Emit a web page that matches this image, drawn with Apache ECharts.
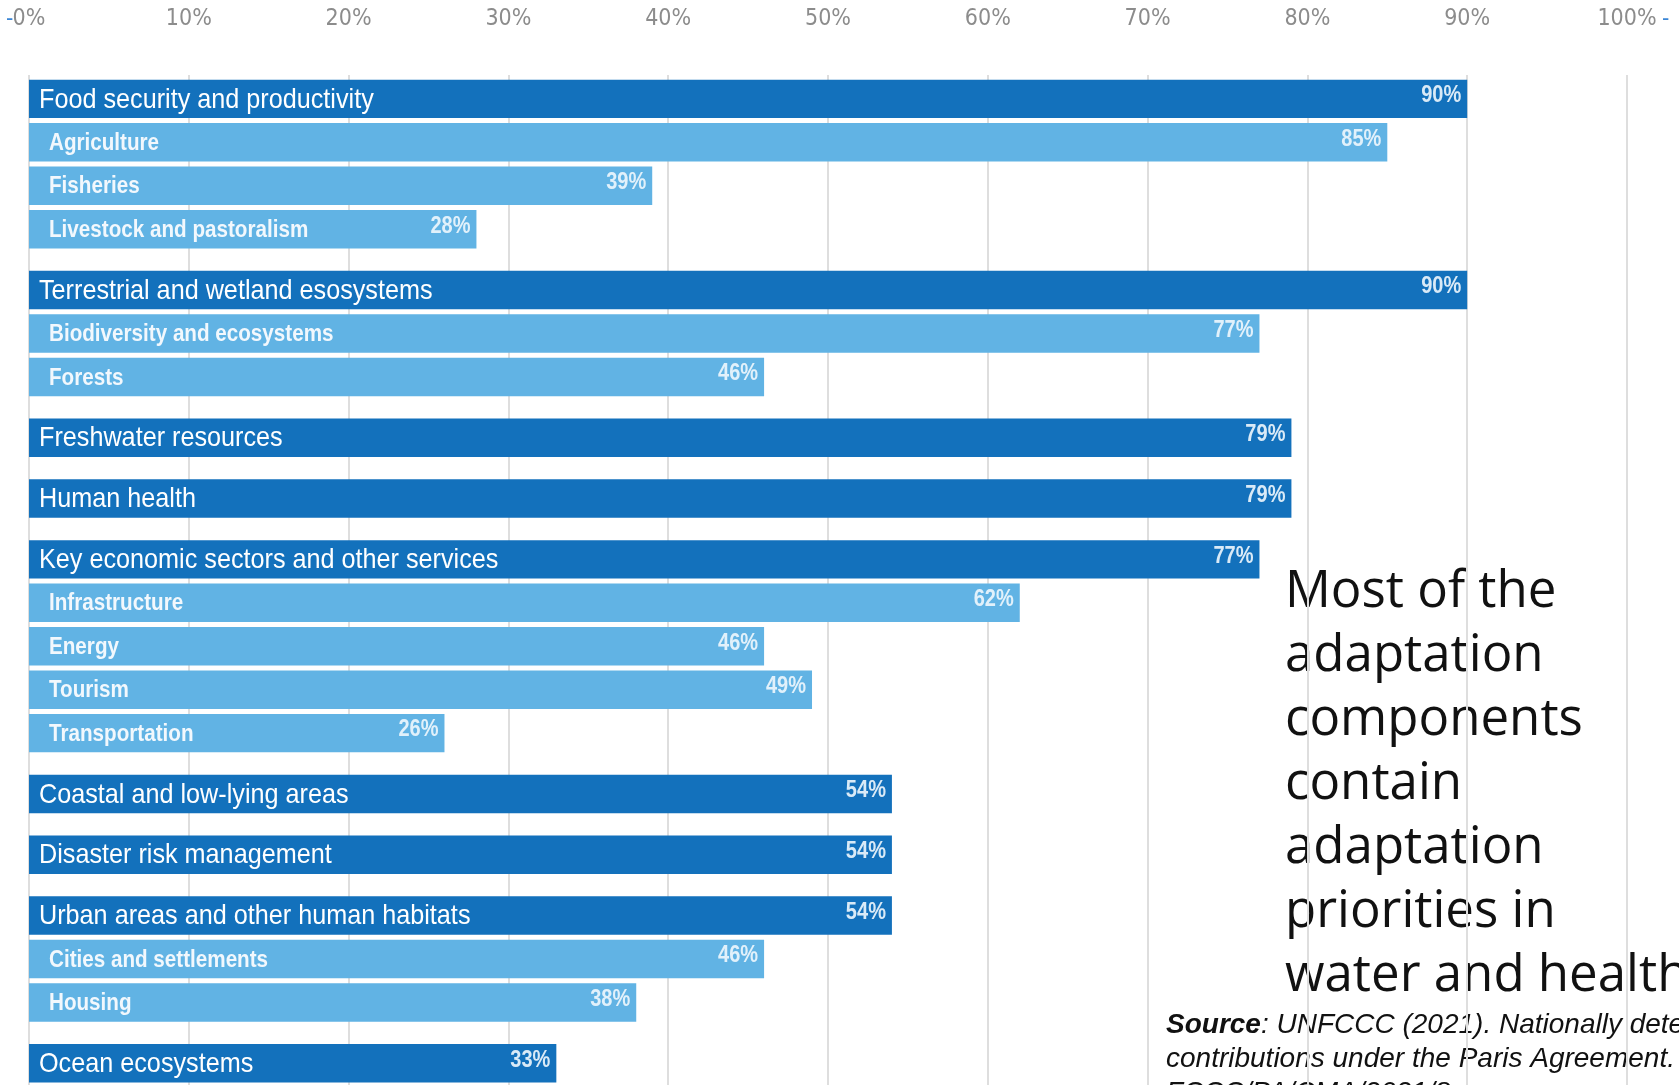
<!DOCTYPE html>
<html>
<head>
<meta charset="utf-8">
<script src="https://cdn.jsdelivr.net/npm/echarts@6/dist/echarts.min.js"></script>
<style>
  html, body { margin: 0; padding: 0; background: #fff; }
  #chart { width: 1679px; height: 1085px; }
</style>
</head>
<body>
<div id="chart"></div>
<script>
// rows top to bottom; a main row starts a new group
const categories = [
  "Food security and productivity", "Agriculture", "Fisheries", "Livestock and pastoralism",
  "Terrestrial and wetland esosystems", "Biodiversity and ecosystems", "Forests",
  "Freshwater resources",
  "Human health",
  "Key economic sectors and other services", "Infrastructure", "Energy", "Tourism", "Transportation",
  "Coastal and low-lying areas",
  "Disaster risk management",
  "Urban areas and other human habitats", "Cities and settlements", "Housing",
  "Ocean ecosystems"
];
const values = [90, 85, 39, 28, 90, 77, 46, 79, 79, 77, 62, 46, 49, 26, 54, 54, 54, 46, 38, 33];
const isSub = [0, 1, 1, 1, 0, 1, 1, 0, 0, 0, 1, 1, 1, 1, 0, 0, 0, 1, 1, 0];
const xTicks = [0, 10, 20, 30, 40, 50, 60, 70, 80, 90, 100];

const DARK = "#1371bc";
const LIGHT = "#61b3e4";
const ARIAL = '"Liberation Sans", Arial, sans-serif';
const GAP = 0.4; // extra space between groups, in rows

// row position on the hidden y axis
let group = -1;
const rows = categories.map((name, i) => {
  if (!isSub[i]) group++;
  return [values[i], i + GAP * group, i];
});

var myChart = echarts.init(document.getElementById("chart"));

var option = {
  animation: false,
  grid: { left: 29, right: 52, top: 75, bottom: 0 },
  xAxis: {
    type: "value",
    position: "top",
    min: xTicks[0],
    max: xTicks[xTicks.length - 1],
    interval: 10,
    axisLine: { show: false },
    axisTick: { show: false },
    splitLine: { lineStyle: { color: "#dedede", width: 2 } },
    axisLabel: {
      formatter: "{value}%",
      color: "#8c8c8c",
      fontSize: 23,
      fontFamily: '"DejaVu Sans Condensed", sans-serif',
      margin: 44
    }
  },
  yAxis: {
    type: "value",
    inverse: true,
    min: -0.55,
    max: 22.7,
    show: false
  },
  series: [
    {
      type: "custom",
      encode: { x: 0, y: 1 },
      data: rows,
      renderItem: function (params, api) {
        const i = api.value(2);
        const sub = isSub[i] === 1;
        const start = api.coord([0, api.value(1)]);
        const end = api.coord([api.value(0), api.value(1)]);
        const h = api.size([0, 0.885])[1];
        return {
          type: "group",
          children: [
            {
              type: "rect",
              shape: { x: start[0], y: start[1] - h / 2, width: end[0] - start[0], height: h },
              style: { fill: sub ? LIGHT : DARK }
            },
            {
              type: "text",
              x: start[0] + (sub ? 20 : 10),
              y: start[1] + 1,
              scaleX: sub ? 0.86 : 0.9,
              style: {
                text: categories[i],
                x: 0,
                y: 0,
                verticalAlign: "middle",
                align: "left",
                fill: sub ? "#f2f8fd" : "#ffffff",
                font: (sub ? "bold 24px " : "28px ") + ARIAL
              }
            },
            {
              type: "text",
              x: end[0] - 6,
              y: start[1] - 3,
              scaleX: 0.87,
              style: {
                text: values[i] + "%",
                x: 0,
                y: 0,
                verticalAlign: "middle",
                align: "right",
                fill: "rgba(240,247,253,0.9)",
                font: "bold 23px " + ARIAL
              }
            }
          ]
        };
      }
    }
  ],
  graphic: [
    {
      type: "text",
      left: 6,
      top: 8,
      style: { text: "-", fill: "#3b86d6", font: "22px " + ARIAL }
    },
    {
      type: "text",
      left: 1662,
      top: 8,
      style: { text: "-", fill: "#3b86d6", font: "22px " + ARIAL }
    },
    {
      type: "text",
      left: 1285,
      top: 560,
      style: {
        text: "Most of the\nadaptation\ncomponents\ncontain\nadaptation\npriorities in\nwater and health",
        fill: "#111111",
        font: '51px "Open Sans", sans-serif',
        lineHeight: 64
      }
    },
    {
      type: "text",
      left: 1166,
      top: 1008,
      style: {
        text: "{b|Source}: UNFCCC (2021). Nationally determined\ncontributions under the Paris Agreement.\nFCCC/PA/CMA/2021/8",
        fill: "#111111",
        fontSize: 28,
        fontFamily: ARIAL,
        fontStyle: "italic",
        lineHeight: 34,
        rich: {
          b: {
            fontSize: 28,
            fontFamily: ARIAL,
            fontStyle: "italic",
            fontWeight: "bold",
            lineHeight: 34,
            fill: "#111111"
          }
        }
      }
    }
  ]
};

option && myChart.setOption(option);
</script>
</body>
</html>
